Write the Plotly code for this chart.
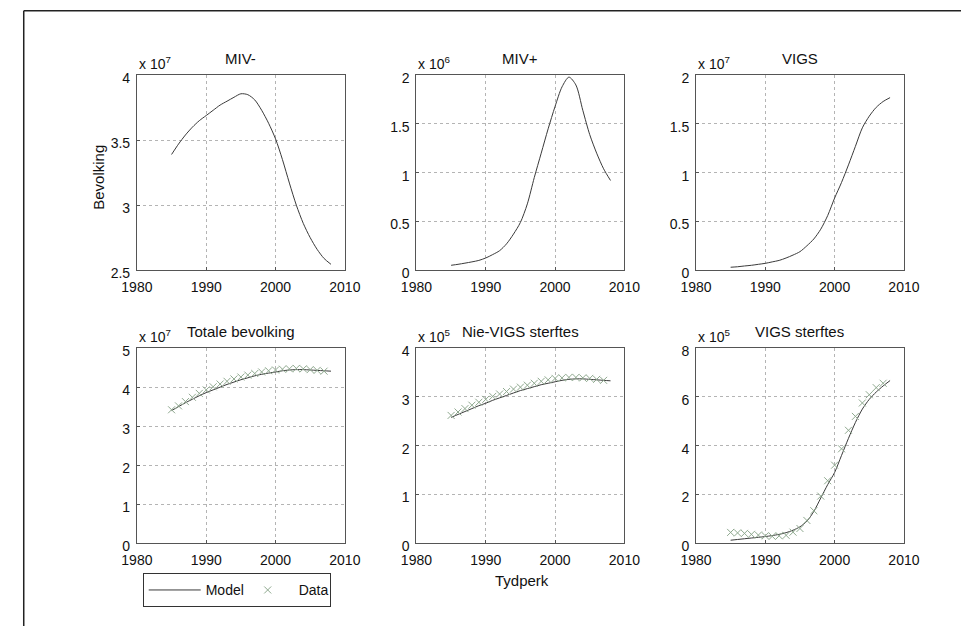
import plotly.graph_objects as go

W, H = 977, 637

years_model = list(range(1985, 2009))
years_data = list(range(1985, 2008))

# Model series (in units of the axis multiplier)
miv_neg = [3.39, 3.47, 3.54, 3.60, 3.65, 3.69, 3.73, 3.77, 3.80, 3.83, 3.857, 3.85,
           3.81, 3.73, 3.63, 3.51, 3.35, 3.17, 3.00, 2.86, 2.75, 2.66, 2.59, 2.545]  # x 1e7
miv_pos = [0.05, 0.06, 0.072, 0.085, 0.10, 0.125, 0.16, 0.20, 0.27, 0.37, 0.49, 0.68,
           0.95, 1.20, 1.45, 1.68, 1.88, 1.98, 1.90, 1.64, 1.39, 1.20, 1.04, 0.92]  # x 1e6
vigs = [0.03, 0.035, 0.043, 0.05, 0.06, 0.07, 0.085, 0.10, 0.125, 0.155, 0.19, 0.25,
        0.32, 0.42, 0.56, 0.74, 0.90, 1.08, 1.27, 1.46, 1.58, 1.67, 1.73, 1.77]  # x 1e7
totaal_model = [3.40, 3.50, 3.60, 3.69, 3.78, 3.86, 3.93, 4.00, 4.07, 4.13, 4.19, 4.24,
                4.29, 4.33, 4.36, 4.39, 4.42, 4.44, 4.45, 4.45, 4.44, 4.43, 4.42, 4.41]  # x 1e7
nievigs_model = [2.58, 2.64, 2.70, 2.76, 2.82, 2.87, 2.93, 2.98, 3.03, 3.08, 3.13, 3.17,
                 3.21, 3.25, 3.28, 3.31, 3.34, 3.36, 3.37, 3.37, 3.36, 3.35, 3.34, 3.33]  # x 1e5
vigssterf_model = [0.12, 0.15, 0.18, 0.21, 0.24, 0.27, 0.31, 0.36, 0.43, 0.53, 0.67, 0.90,
                   1.30, 1.85, 2.40, 2.90, 3.60, 4.30, 4.95, 5.50, 5.90, 6.20, 6.45, 6.67]  # x 1e5

# Data series
totaal_data = [3.42, 3.52, 3.63, 3.74, 3.84, 3.93, 4.01, 4.08, 4.15, 4.21, 4.26, 4.31,
               4.35, 4.39, 4.42, 4.44, 4.46, 4.47, 4.48, 4.47, 4.45, 4.43, 4.41]
nievigs_data = [2.62, 2.69, 2.76, 2.83, 2.89, 2.95, 3.01, 3.06, 3.11, 3.16, 3.20, 3.24,
                3.28, 3.32, 3.35, 3.38, 3.39, 3.40, 3.40, 3.39, 3.38, 3.36, 3.34]
vigssterf_data = [0.44, 0.42, 0.40, 0.36, 0.33, 0.30, 0.28, 0.30, 0.32, 0.45, 0.60, 0.93,
                  1.33, 1.93, 2.56, 3.20, 3.87, 4.63, 5.20, 5.75, 6.09, 6.38, 6.56]

titles = ["MIV-", "MIV+", "VIGS", "Totale bevolking", "Nie-VIGS sterftes", "VIGS sterftes"]
exponents = ["7", "6", "7", "7", "5", "5"]
y_ranges = [[2.5, 4], [0, 2], [0, 2], [0, 5], [0, 4], [0, 8]]
y_dticks = [0.5, 0.5, 0.5, 1, 1, 2]
x_ticks = [1980, 1990, 2000, 2010]

model_series = [miv_neg, miv_pos, vigs, totaal_model, nievigs_model, vigssterf_model]
data_series = [None, None, None, totaal_data, nievigs_data, vigssterf_data]

# pixel layout of panels
cols_px = [(125, 340), (414, 629), (703, 918)]
rows_px = [(72, 272), (352, 552)]

LINE_COLOR = "#3a3a3a"
MARK_COLOR = "#8fa98f"
FONT = "Liberation Sans, Arial, sans-serif"

fig = go.Figure()
annotations = []
layout_axes = {}

for i in range(6):
    r, c = divmod(i, 3)
    x0, x1 = cols_px[c]
    y0, y1 = rows_px[r]
    xd = [x0 / W, x1 / W]
    yd = [1 - y1 / H, 1 - y0 / H]
    n = i + 1
    xa = "x" if n == 1 else f"x{n}"
    ya = "y" if n == 1 else f"y{n}"
    common = dict(showline=True, mirror=True, linecolor="#555", linewidth=1,
                  showgrid=True, gridcolor="#b4b4b4", griddash="dot", gridwidth=1,
                  zeroline=False, ticks="inside", ticklen=3, tickcolor="#555",
                  tickfont=dict(family=FONT, size=14, color="#111"))
    layout_axes["xaxis" if n == 1 else f"xaxis{n}"] = dict(
        domain=xd, anchor=ya, range=[1980, 2010], tickvals=x_ticks,
        ticklabelstandoff=4, **common)
    layout_axes["yaxis" if n == 1 else f"yaxis{n}"] = dict(
        domain=yd, anchor=xa, range=y_ranges[i], dtick=y_dticks[i], tick0=0,
        ticklabelstandoff=3, ticklabelshift=3, **common)

    fig.add_trace(go.Scatter(x=years_model, y=model_series[i], mode="lines",
                             line=dict(color=LINE_COLOR, width=1, shape="spline", smoothing=0.8),
                             name="Model", showlegend=(i == 3), xaxis=xa, yaxis=ya))
    if data_series[i] is not None:
        fig.add_trace(go.Scatter(x=years_data, y=data_series[i], mode="markers",
                                 marker=dict(symbol="x-thin", size=7,
                                             line=dict(color=MARK_COLOR, width=1)),
                                 name="Data", showlegend=(i == 3), xaxis=xa, yaxis=ya))

    # title
    annotations.append(dict(text=titles[i], xref="paper", yref="paper",
                            x=(xd[0] + xd[1]) / 2, y=1 - (y0 - 17) / H,
                            xanchor="center", yanchor="middle", showarrow=False,
                            font=dict(family=FONT, size=15, color="#111")))
    # exponent
    annotations.append(dict(text="x 10<sup>" + exponents[i] + "</sup>", xref="paper", yref="paper",
                            x=xd[0], y=yd[1], xanchor="left", yanchor="bottom",
                            yshift=1, showarrow=False,
                            font=dict(family=FONT, size=14, color="#111")))

annotations.append(dict(text="Bevolking", xref="paper", yref="paper",
                        x=85 / W, y=1 - 177 / H, textangle=-90,
                        xanchor="center", yanchor="middle", showarrow=False,
                        font=dict(family=FONT, size=15, color="#111")))
annotations.append(dict(text="Tydperk", xref="paper", yref="paper",
                        x=523 / W, y=1 - 590 / H,
                        xanchor="center", yanchor="middle", showarrow=False,
                        font=dict(family=FONT, size=15, color="#111")))

shapes = [
    dict(type="line", xref="paper", yref="paper", x0=8 / W, x1=1, y0=1 - 6 / H, y1=1 - 6 / H,
         line=dict(color="#222", width=1.5)),
    dict(type="line", xref="paper", yref="paper", x0=8 / W, x1=8 / W, y0=0, y1=1 - 6 / H,
         line=dict(color="#222", width=1.5)),
]

fig.update_layout(
    width=W, height=H, margin=dict(l=0, r=0, t=0, b=0),
    paper_bgcolor="white", plot_bgcolor="white",
    annotations=annotations, shapes=shapes,
    legend=dict(orientation="h", x=131 / W, y=1 - 583 / H, xanchor="left", yanchor="top",
                bordercolor="#333", borderwidth=1, bgcolor="white",
                font=dict(family=FONT, size=14, color="#111"),
                entrywidth=26, itemwidth=52, tracegroupgap=0),
    **layout_axes,
)

fig.write_html("out.html")
